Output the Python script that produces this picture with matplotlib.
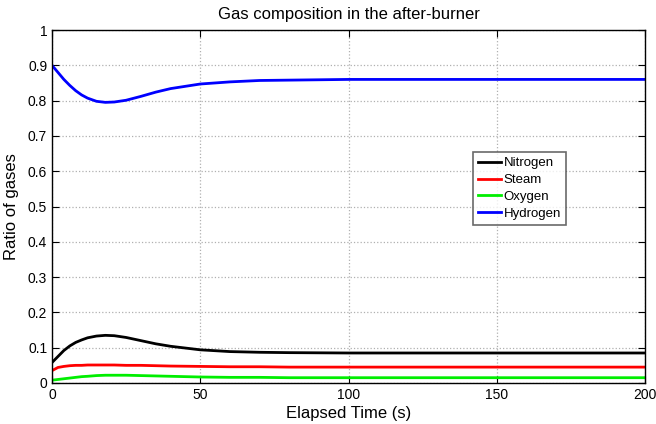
import matplotlib
matplotlib.use("Agg")
import matplotlib.pyplot as plt

plt.rcParams["font.family"] = ["Liberation Sans", "DejaVu Sans"]

# values
time = [0, 2, 4, 6, 8, 10, 12, 15, 18, 21, 25, 30, 35, 40, 50, 60, 70, 80, 100, 150, 200]
nitrogen = [0.058, 0.075, 0.092, 0.105, 0.115, 0.122, 0.128, 0.133, 0.135, 0.134, 0.129, 0.120,
            0.111, 0.104, 0.094, 0.089, 0.087, 0.086, 0.085, 0.085, 0.085]
steam = [0.035, 0.044, 0.047, 0.049, 0.050, 0.050, 0.051, 0.051, 0.051, 0.051, 0.050, 0.050,
         0.049, 0.048, 0.047, 0.046, 0.046, 0.045, 0.045, 0.045, 0.045]
oxygen = [0.008, 0.010, 0.012, 0.014, 0.016, 0.018, 0.019, 0.021, 0.022, 0.022, 0.022, 0.021,
          0.020, 0.019, 0.017, 0.016, 0.016, 0.015, 0.015, 0.015, 0.015]
hydrogen = [0.900, 0.880, 0.860, 0.843, 0.828, 0.816, 0.807, 0.798, 0.795, 0.796, 0.801, 0.812,
            0.824, 0.834, 0.847, 0.853, 0.857, 0.858, 0.860, 0.860, 0.860]

series = [("Nitrogen", nitrogen, "black"), ("Steam", steam, "red"),
          ("Oxygen", oxygen, "#00ee00"), ("Hydrogen", hydrogen, "blue")]

fig = plt.figure(figsize=(6.56, 4.24), dpi=100)
ax = fig.add_axes([52 / 656, 41 / 424, 593 / 656, 353 / 424])

for name, vals, col in series:
    ax.plot(time, vals, color=col, lw=2, label=name)

ax.set_xlim(0, 200)
ax.set_ylim(0, 1)
ax.set_xticks([0, 50, 100, 150, 200])
ax.set_yticks([i / 10 for i in range(11)])
ax.set_yticklabels(["0", "0.1", "0.2", "0.3", "0.4", "0.5", "0.6", "0.7", "0.8", "0.9", "1"])
ax.tick_params(direction="in", labelsize=10, length=5, top=True, right=True)
ax.grid(True, color="#b0b0b0", linestyle=":", lw=0.9)
for s in ax.spines.values():
    s.set_linewidth(1.0)

ax.set_xlabel("Elapsed Time (s)", fontsize=12, labelpad=3)
ax.set_ylabel("Ratio of gases", fontsize=12, labelpad=6)
ax.set_title("Gas composition in the after-burner", fontsize=12, pad=8)

leg = ax.legend(loc="upper left", bbox_to_anchor=(0.71, 0.655), fontsize=9.5, frameon=True,
                fancybox=False, edgecolor="#444444", handlelength=1.7, handletextpad=0.2,
                borderpad=0.4, labelspacing=0.35, borderaxespad=0)
leg.get_frame().set_linewidth(1.2)

fig.savefig("out.png", dpi=100)
